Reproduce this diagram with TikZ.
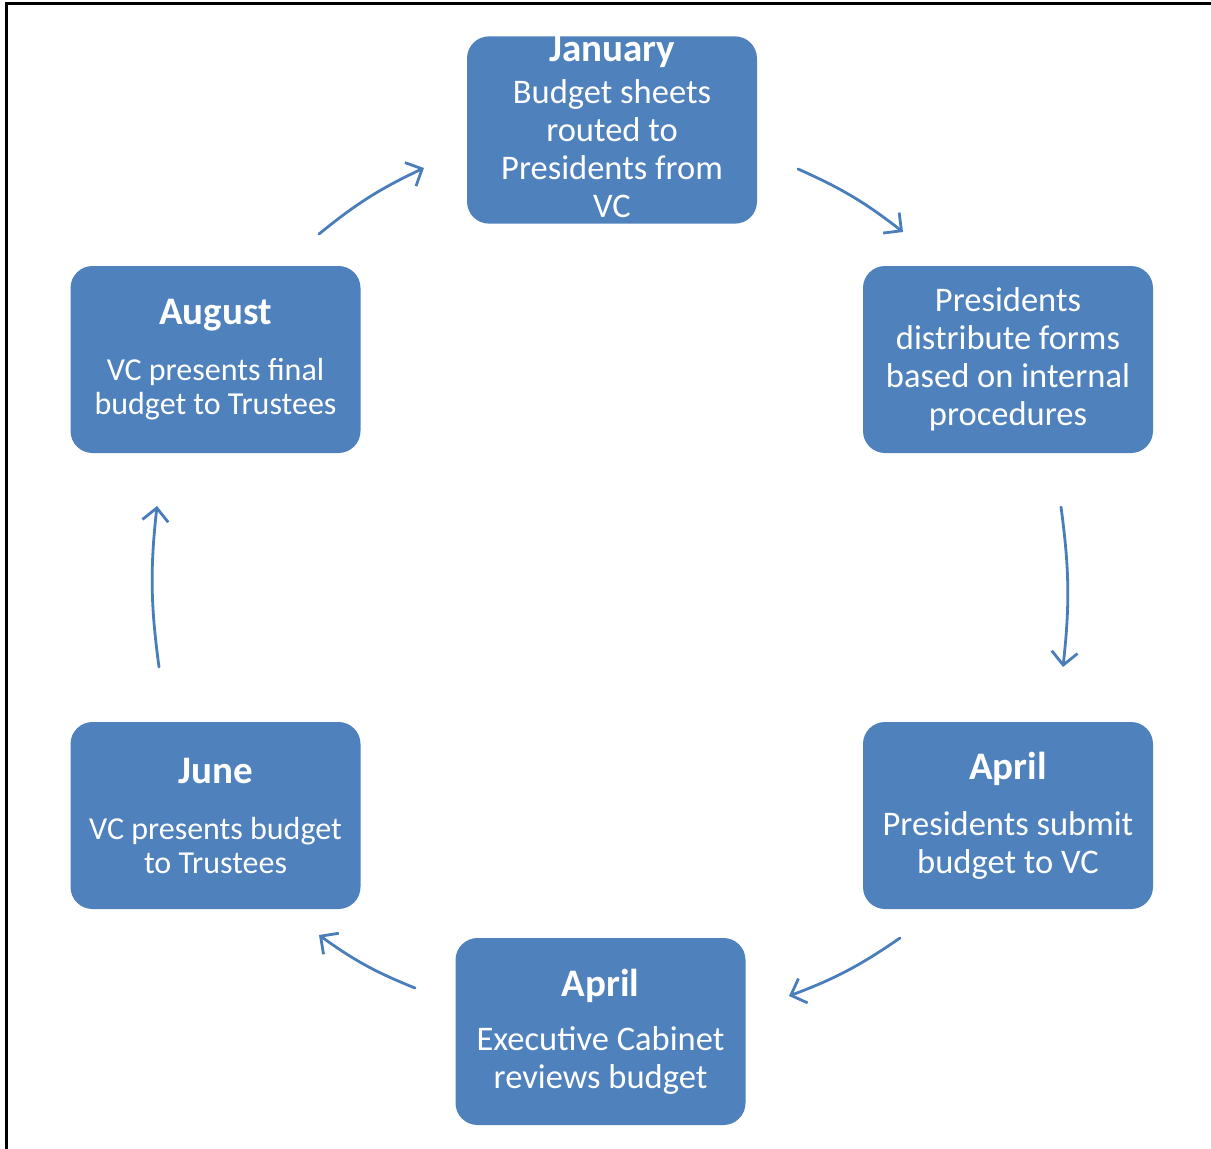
\documentclass[tikz,border=0pt]{standalone}
\usepackage{fontspec}
\setmainfont{Carlito}
\usetikzlibrary{arrows.meta}
\definecolor{boxblue}{HTML}{4F81BD}
\definecolor{arrblue}{HTML}{4A7EBB}
\tikzset{
  stepbox/.style={rectangle, rounded corners=22pt, fill=boxblue, text=white,
    minimum width=290pt, minimum height=187pt, inner sep=0pt, align=center,
    font=\fontsize{34.5}{38}\selectfont},
  tightbox/.style={stepbox, font=\fontsize{32}{34}\selectfont},
  flow/.style={draw=arrblue, line width=2.8pt, line cap=round,
    -{Straight Barb[length=13pt,width=26pt,line width=2.8pt]}, bend left=7},
}
\newcommand{\ttl}[1]{{\bfseries\fontsize{39}{42}\selectfont #1}}
\begin{document}
\begin{tikzpicture}[x=1pt,y=-1pt]
\useasboundingbox (0,0) rectangle (1211,1149);
\draw[line width=3pt] (6,1149) -- (6,3) -- (1211,3);

\node[stepbox] (jan) at (612,130) {\ttl{January}\\[4pt]Budget sheets\\routed to\\Presidents from\\VC\\[-32pt]\mbox{}};
\node[stepbox] (pres) at (1008,359.5) {Presidents\\distribute forms\\based on internal\\procedures};
\node[stepbox] (aprr) at (1008,815.5) {\ttl{April}\\[18pt]Presidents submit\\budget to VC};
\node[stepbox] (aprb) at (600.5,1031.5) {\ttl{April}\\[16pt]Executive Cabinet\\reviews budget};
\node[tightbox] (june) at (215.5,815.5) {\ttl{June}\\[22pt]VC presents budget\\to Trustees};
\node[tightbox] (aug) at (215.5,359.5) {\ttl{August}\\[22pt]VC presents final\\budget to Trustees};

\coordinate (a1s) at (798,169);  \coordinate (a1e) at (903,232);
\coordinate (a2s) at (1061,507); \coordinate (a2e) at (1063,667);
\coordinate (a3s) at (900,938);  \coordinate (a3e) at (789,996);
\coordinate (a4s) at (415,988);  \coordinate (a4e) at (319,935);
\coordinate (a5s) at (159,667);  \coordinate (a5e) at (157,506);
\coordinate (a6s) at (319,234);  \coordinate (a6e) at (424,168);

\draw[flow] (a1s) to (a1e);
\draw[flow] (a2s) to (a2e);
\draw[flow] (a3s) to (a3e);
\draw[flow] (a4s) to (a4e);
\draw[flow] (a5s) to (a5e);
\draw[flow] (a6s) to (a6e);
\end{tikzpicture}
\end{document}
